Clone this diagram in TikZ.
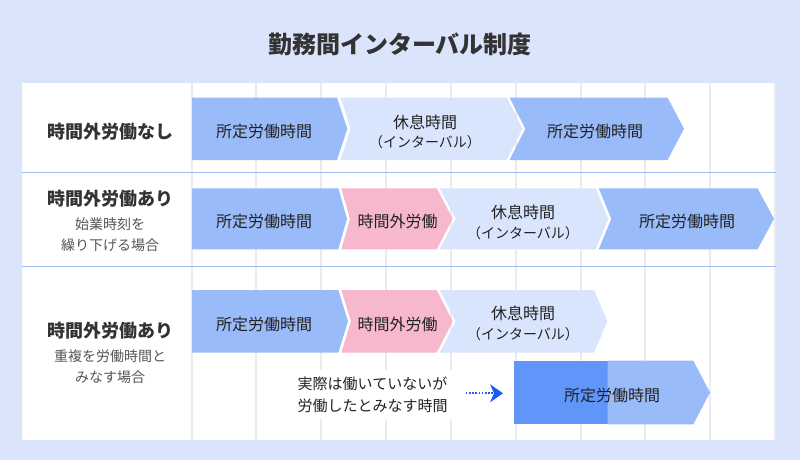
\documentclass[tikz,border=0pt]{standalone}
\usepackage{fontspec}
\setmainfont{Noto Sans CJK JP}
\usetikzlibrary{arrows.meta}
\definecolor{bgc}{HTML}{DAE5FC}
\definecolor{gridc}{HTML}{EBEBEB}
\definecolor{sepc}{HTML}{9DBEF7}
\definecolor{workc}{HTML}{99BBF9}
\definecolor{darkc}{HTML}{6096FA}
\definecolor{pinkc}{HTML}{F7B8CE}
\definecolor{restc}{HTML}{D9E5FC}
\definecolor{titlec}{HTML}{333333}
\definecolor{subc}{HTML}{555555}
\definecolor{txtc}{HTML}{222222}
\definecolor{dotc}{HTML}{1A5CF5}
\tikzset{
  gridline/.style={draw=gridc, line width=2pt},
  sepline/.style={draw=sepc, line width=1pt},
  rowlabel/.style={font=\fontsize{18}{22}\selectfont\bfseries, text=titlec, inner sep=0pt},
  sublabel/.style={font=\fontsize{14}{17}\selectfont, text=subc, inner sep=0pt},
  armtext/.style={font=\fontsize{16}{19}\selectfont, text=txtc, inner sep=0pt},
  smalltext/.style={font=\fontsize{14}{17}\selectfont, text=txtc, inner sep=0pt},
  dotarr/.style={draw=dotc, line width=1.8pt, dash pattern=on 1.6pt off 1.6pt,
    -{Stealth[length=13pt,width=18pt,inset=4pt,fill=dotc,line width=0pt]}},
}
\begin{document}
\begin{tikzpicture}[x=1pt,y=-1pt]
\fill[bgc] (0,0) rectangle (800,460);
\useasboundingbox (0,0) rectangle (800,460);
\node[font=\fontsize{24}{28}\selectfont\bfseries, text=titlec, inner sep=0pt] (title) at (400,44) {勤務間インターバル制度};
\fill[white] (22,83) rectangle (776,440);
\foreach \k in {0,...,9} \draw[gridline] ({191.6+64.83*\k},83) -- ({191.6+64.83*\k},440);
\draw[sepline] (22,172.3) -- (776,172.3);
\draw[sepline] (22,266) -- (776,266);
% row 1
\fill[workc] (192,97.5) -- (337,97.5) -- (347.3,128.75) -- (337,160) -- (192,160) -- cycle;
\fill[restc] (340.5,97.5) -- (506.7,97.5) -- (522.5,128.75) -- (506.7,160) -- (340.5,160) -- (350.8,128.75) -- cycle;
\fill[workc] (509.5,97.5) -- (667.5,97.5) -- (684,128.75) -- (667.5,160) -- (509.5,160) -- (525.3,128.75) -- cycle;
% row 2
\fill[workc] (192,188.3) -- (338.3,188.3) -- (347,218.8) -- (338.3,249.3) -- (192,249.3) -- cycle;
\fill[pinkc] (341.3,188.3) -- (436.7,188.3) -- (452.7,218.8) -- (436.7,249.3) -- (341.3,249.3) -- (350,218.8) -- cycle;
\fill[restc] (439.7,188.3) -- (595.7,188.3) -- (608.3,218.8) -- (595.7,249.3) -- (439.7,249.3) -- (455.7,218.8) -- cycle;
\fill[workc] (598.7,188.3) -- (757.5,188.3) -- (774,218.8) -- (757.5,249.3) -- (598.7,249.3) -- (611.3,218.8) -- cycle;
% row 3
\fill[workc] (192,290) -- (338.3,290) -- (348,321.35) -- (338.3,352.7) -- (192,352.7) -- cycle;
\fill[pinkc] (341.3,290) -- (436.7,290) -- (452.7,321.35) -- (436.7,352.7) -- (341.3,352.7) -- (351,321.35) -- cycle;
\fill[restc] (439.7,290) -- (594,290) -- (607.3,321.35) -- (594,352.7) -- (439.7,352.7) -- (455.7,321.35) -- cycle;
% bottom arrow
\fill[darkc] (514.3,360.7) rectangle (607.7,424.3);
\fill[workc] (607.7,360.7) -- (693.3,360.7) -- (710,392.5) -- (693.3,424.3) -- (607.7,424.3) -- cycle;
% row labels
\node[rowlabel] (r1) at (110,131.5) {時間外労働なし};
\node[rowlabel] (r2) at (110,199) {時間外労働あり};
\node[sublabel] (r2a) at (110,224) {始業時刻を};
\node[sublabel] (r2b) at (110,245) {繰り下げる場合};
\node[rowlabel] (r3) at (110,331) {時間外労働あり};
\node[sublabel] (r3a) at (110,356.7) {重複を労働時間と};
\node[sublabel] (r3b) at (110,377.3) {みなす場合};
% arrow texts row 1
\node[armtext] (w11) at (264,131) {所定労働時間};
\node[armtext] (i11) at (425,122.7) {休息時間};
\node[smalltext] (i12) at (425,141.7) {（インターバル）};
\node[armtext] (w12) at (595,131) {所定労働時間};
% row 2
\node[armtext] (w21) at (264,221.5) {所定労働時間};
\node[armtext] (o21) at (397.5,221.5) {時間外労働};
\node[armtext] (i21) at (523,212.7) {休息時間};
\node[smalltext] (i22) at (523,233.3) {（インターバル）};
\node[armtext] (w22) at (687,221.5) {所定労働時間};
% row 3
\node[armtext] (w31) at (264,324) {所定労働時間};
\node[armtext] (o31) at (397.5,324) {時間外労働};
\node[armtext] (i31) at (523,313.3) {休息時間};
\node[smalltext] (i32) at (523,334) {（インターバル）};
% bottom
\node[armtext] (wb) at (612,395) {所定労働時間};
\node[font=\fontsize{15}{22.4}\selectfont, text=txtc, fill=white, align=center, inner xsep=8pt, inner ysep=6pt] (lbl) at (372.5,394.5) {実際は働いていないが\\労働したとみなす時間};
\coordinate (dotend) at (503,393.3);
\draw[dotarr, shorten <=10pt] (lbl.east |- dotend) -- (dotend);
\end{tikzpicture}
\end{document}
